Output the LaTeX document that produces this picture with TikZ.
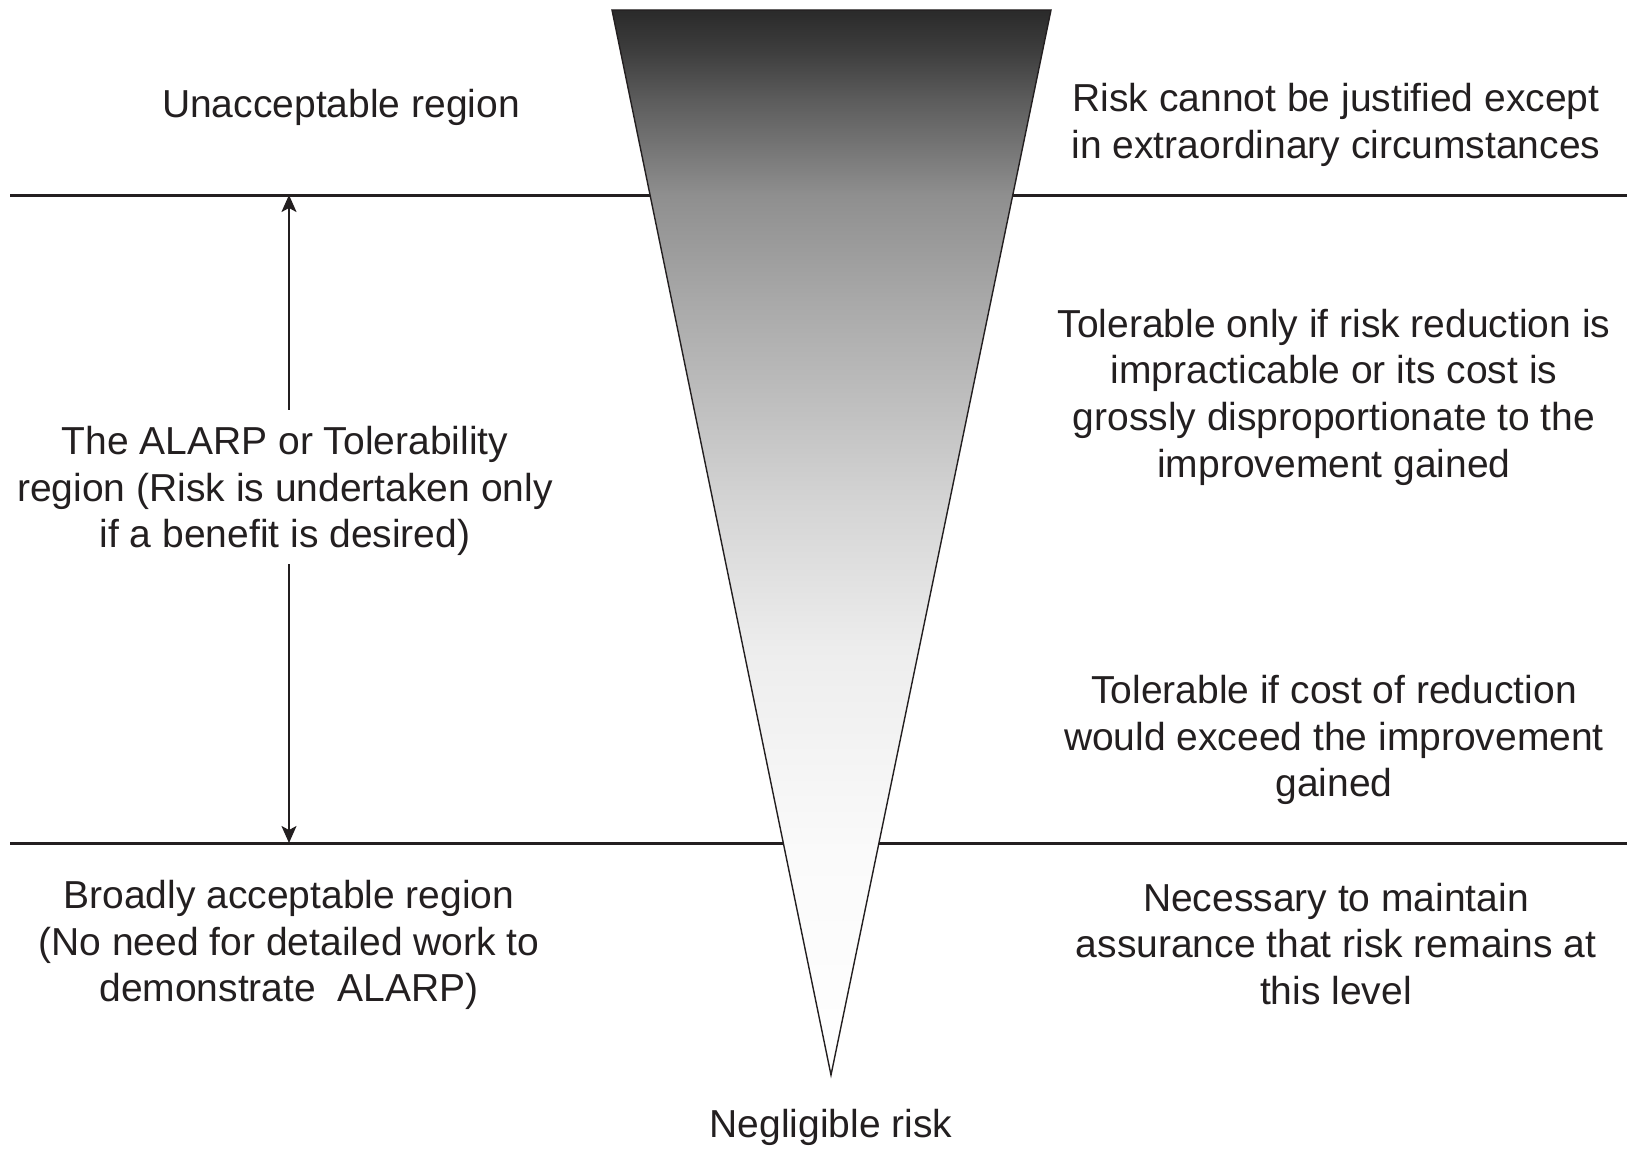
\documentclass[tikz,border=0pt]{standalone}
\usepackage{fontspec}
\setmainfont{Liberation Sans}
\usetikzlibrary{arrows.meta}
\definecolor{ink}{RGB}{35,31,32}
\definecolor{fadeA}{gray}{0.165}
\definecolor{fadeB}{gray}{0.24}
\definecolor{fadeC}{gray}{0.36}
\definecolor{fadeD}{gray}{0.56}
\definecolor{fadeE}{gray}{0.66}
\definecolor{fadeF}{gray}{0.83}
\definecolor{fadeG}{gray}{0.93}
\definecolor{fadeH}{gray}{0.98}
\pgfdeclareverticalshading{riskfade}{100bp}{color(0bp)=(white); color(25bp)=(white);
  color(35.6bp)=(fadeH); color(45bp)=(fadeG); color(52bp)=(fadeF); color(61.4bp)=(fadeE);
  color(66.3bp)=(fadeD); color(70.8bp)=(fadeC); color(73.1bp)=(fadeB); color(75bp)=(fadeA);
  color(100bp)=(fadeA)}
\begin{document}
\begin{tikzpicture}[x=1pt,y=-1pt,
    txt/.style={align=center, font=\fontsize{39}{46.7}\selectfont, text=ink, inner sep=0pt},
    level/.style={draw=ink, line width=3pt},
    span/.style={draw=ink, line width=2pt, -{Stealth[length=17pt,width=15pt,inset=4pt]}}]
    \useasboundingbox (0,0) rectangle (1627,1148);
    % region boundaries
    \coordinate (upL) at (10,195);
    \coordinate (upR) at (1627,195);
    \coordinate (loL) at (10,843);
    \coordinate (loR) at (1627,843);
    \draw[level] (upL) -- (upR);
    \draw[level] (loL) -- (loR);
    % risk triangle
    \coordinate (topL) at (612,10);
    \coordinate (topR) at (1051,10);
    \coordinate (apex) at (831,1075);
    \shade[shading=riskfade, draw=ink, line width=1.4pt, line join=miter] (topL) -- (topR) -- (apex) -- cycle;
    % left column
    \node[txt] (unacc) at (341,107) {Unacceptable region};
    \node[txt] (alarp) at (285,491) {The ALARP or Tolerability\\region (Risk is undertaken only\\if a benefit is desired)};
    \node[txt] (broad) at (289,945) {Broadly acceptable region\\(No need for detailed work to\\demonstrate\ \ ALARP)};
    \coordinate (arrT) at (289,195);
    \coordinate (arrB) at (289,843);
    \draw[span] ([yshift=16pt]alarp.north -| arrT) -- (arrT);
    \draw[span] ([yshift=-8pt]alarp.south -| arrB) -- (arrB);
    % right column
    \node[txt] (justify) at (1336,125) {Risk cannot be justified except\\in extraordinary circumstances};
    \node[txt] (onlyif) at (1334,397) {Tolerable only if risk reduction is\\impracticable or its cost is\\grossly disproportionate to the\\improvement gained};
    \node[txt] (exceed) at (1334,740) {Tolerable if cost of reduction\\would exceed the improvement\\gained};
    \node[txt] (maintain) at (1336,944) {Necessary to maintain\\assurance that risk remains at\\this level};
    \node[txt] (negl) at (831,1127) {Negligible risk};
\end{tikzpicture}
\end{document}
